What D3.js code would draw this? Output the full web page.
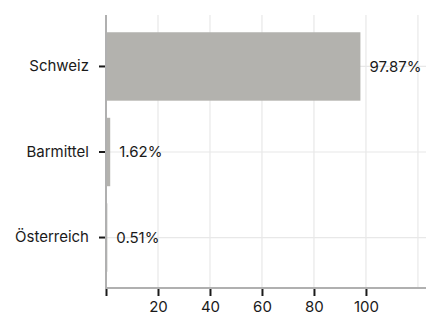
<!DOCTYPE html>
<html><head><meta charset="utf-8">
<script src="https://cdn.jsdelivr.net/npm/d3@7"></script>
<style>body{margin:0;background:#fff;} text{font-family:Inter,"Noto Sans",sans-serif;}</style>
</head><body><svg id="c" width="426" height="315"></svg>
<script>
const categories = ["Schweiz", "Barmittel", "Österreich"];
const values = [97.87, 1.62, 0.51];
const valueLabels = ["97.87%", "1.62%", "0.51%"];
const xTicks = [20, 40, 60, 80, 100];
const gridTicks = [20, 40, 60, 80, 100, 120];
const FS = 15;

const svg = d3.select("#c");
const mLeft = 106, mRight = 426, mTop = 15, mBottom = 288;
const x = d3.scaleLinear().domain([0, 123.1]).range([mLeft, mRight]);
const y = d3.scaleBand().domain(categories).range([mTop + 1, mBottom]).paddingInner(0.2).paddingOuter(0.19);

// gridlines
svg.append("g").selectAll("line").data(gridTicks).join("line")
  .attr("x1", d => x(d)).attr("x2", d => x(d)).attr("y1", mTop).attr("y2", mBottom)
  .attr("stroke", "#e8e8e8").attr("stroke-width", 1.2);
svg.append("g").selectAll("line").data(categories).join("line")
  .attr("x1", mLeft).attr("x2", mRight).attr("y1", d => y(d) + y.bandwidth()/2).attr("y2", d => y(d) + y.bandwidth()/2)
  .attr("stroke", "#e8e8e8").attr("stroke-width", 1.2);

// bars
svg.append("g").selectAll("rect").data(categories).join("rect")
  .attr("x", x(0)).attr("y", d => y(d))
  .attr("width", (d, i) => x(values[i]) - x(0)).attr("height", y.bandwidth())
  .attr("fill", "#b3b2ae");

// value labels
svg.append("g").selectAll("text").data(categories).join("text")
  .attr("x", (d, i) => x(values[i]) + 9).attr("y", d => y(d) + y.bandwidth()/2)
  .attr("dy", "0.35em").attr("font-size", FS).attr("fill", "#1a1a1a")
  .text((d, i) => valueLabels[i]);

// axis lines
svg.append("line").attr("x1", mLeft).attr("x2", mLeft).attr("y1", mTop).attr("y2", mBottom + 1)
  .attr("stroke", "#b0b0b0").attr("stroke-width", 2);
svg.append("line").attr("x1", mLeft).attr("x2", mRight).attr("y1", mBottom).attr("y2", mBottom)
  .attr("stroke", "#b0b0b0").attr("stroke-width", 2);

// x axis
const xa = svg.append("g").attr("transform", `translate(0,${mBottom + 1})`)
  .call(d3.axisBottom(x).tickValues([0].concat(xTicks)).tickSize(7).tickPadding(5).tickFormat(d => d === 0 ? "" : d));
xa.select(".domain").remove();
xa.selectAll(".tick line").attr("stroke", "#1a1a1a").attr("stroke-width", 2);
xa.selectAll("text").attr("font-size", FS).attr("fill", "#1a1a1a").attr("font-family", "Inter, sans-serif");

// y axis
const ya = svg.append("g").attr("transform", `translate(${mLeft - 1},0)`)
  .call(d3.axisLeft(y).tickSize(6).tickPadding(10));
ya.select(".domain").remove();
ya.selectAll(".tick line").attr("stroke", "#1a1a1a").attr("stroke-width", 2);
ya.selectAll("text").attr("font-size", FS).attr("fill", "#1a1a1a").attr("font-family", "Inter, sans-serif");
</script></body></html>
